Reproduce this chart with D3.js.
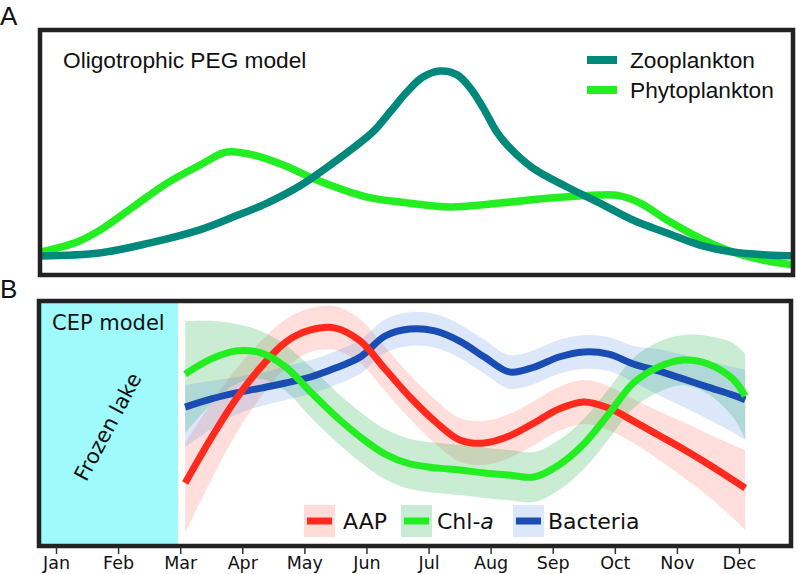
<!DOCTYPE html>
<html>
<head>
<meta charset="utf-8">
<script src="https://d3js.org/d3.v7.min.js"></script>
<style>
  html, body { margin: 0; padding: 0; background: #fff; }
  svg { display: block; }
</style>
</head>
<body>
<svg id="chart" width="797" height="574"></svg>
<script>
// ---------- DATA ----------
const monthLabels = ["Jan","Feb","Mar","Apr","May","Jun","Jul","Aug","Sep","Oct","Nov","Dec"];

// Panel A: Oligotrophic PEG model (arbitrary units, month index 0 = Jan)
const zooMonths = [-0.25, 0.7, 1.5, 2.3, 2.85, 3.4, 3.95, 4.57, 5.1, 5.38, 5.65, 5.91, 6.18, 6.46, 6.67, 6.88, 7.1, 7.31, 7.68, 8.23, 8.76, 9.29, 9.84, 10.37, 10.9, 11.45, 11.9];
const zooValues = [7.1, 8.3, 12.4, 17.8, 23.2, 29.0, 36.5, 47.7, 58.5, 66.8, 75.1, 81.3, 83.8, 82.2, 76.8, 68.5, 58.5, 51.9, 43.5, 35.7, 29.0, 22.0, 16.6, 11.6, 8.7, 7.5, 7.1];
const phytoMonths = [-0.25, 0.34, 0.71, 1.24, 1.79, 2.32, 2.75, 3.17, 3.66, 4.2, 5.01, 5.54, 6.35, 7.15, 7.96, 8.76, 9.08, 9.41, 9.84, 10.37, 10.9, 11.45, 11.9];
const phytoValues = [8.7, 12.9, 17.8, 27.4, 37.3, 44.8, 50.2, 49.0, 44.8, 38.6, 31.5, 29.5, 27.4, 29.0, 31.1, 32.4, 32.0, 29.0, 22.0, 14.5, 8.7, 5.0, 3.3];

// Panel B: CEP model
const frozenEnd = 1.965;
const cepMonths = [2.08, 2.5, 2.9, 3.3, 3.7, 4.1, 4.5, 4.9, 5.3, 5.7, 6.1, 6.5, 6.9, 7.3, 7.7, 8.1, 8.5, 8.9, 9.3, 9.7, 10.1, 10.5, 10.9, 11.1];
const aapMean = [25.3, 44.0, 60.2, 73.4, 83.8, 88.8, 89.6, 84.2, 72.6, 61.0, 51.0, 43.2, 41.9, 44.8, 50.2, 56.0, 58.9, 56.4, 51.0, 45.2, 39.4, 33.2, 26.6, 23.2];
const aapLow  = [4.6, 26.6, 45.7, 61.0, 73.0, 79.7, 80.5, 75.1, 63.5, 51.9, 41.9, 34.1, 32.8, 35.7, 41.1, 46.9, 49.8, 47.3, 41.9, 35.2, 27.8, 19.9, 10.8, 5.8];
const aapHigh = [41.9, 58.5, 72.6, 84.2, 93.3, 97.9, 98.7, 93.3, 81.7, 70.1, 60.1, 52.3, 51.0, 53.9, 59.3, 65.1, 68.0, 65.5, 60.1, 55.2, 50.6, 45.7, 41.1, 39.0];
const chlMean = [70.5, 76.8, 80.1, 79.3, 73.4, 63.1, 53.1, 44.4, 37.3, 33.2, 31.7, 30.7, 29.5, 28.6, 27.8, 32.8, 41.5, 53.9, 66.8, 73.4, 76.3, 74.7, 68.5, 61.4];
const chlLow  = [46.0, 58.1, 66.4, 68.5, 63.4, 52.7, 42.7, 34.0, 26.9, 22.8, 21.3, 20.3, 19.1, 18.2, 17.4, 22.4, 31.1, 43.5, 56.4, 63.0, 65.9, 62.2, 52.7, 43.6];
const chlHigh = [92.5, 92.6, 91.3, 88.4, 82.5, 73.5, 63.5, 54.8, 47.7, 43.6, 42.1, 41.1, 39.9, 39.0, 38.2, 43.2, 51.9, 64.3, 77.2, 83.8, 86.7, 86.3, 83.4, 78.8];
const bacMean = [56.8, 60.2, 62.7, 64.7, 66.8, 69.3, 73.0, 77.6, 86.3, 89.2, 88.4, 84.2, 77.6, 71.4, 73.4, 77.6, 79.7, 78.8, 74.7, 71.8, 68.5, 65.1, 61.8, 59.8];
const bacLow  = [40.2, 47.7, 53.6, 57.2, 59.8, 62.3, 66.0, 70.6, 79.3, 82.2, 81.4, 77.2, 70.6, 64.4, 66.4, 70.6, 72.7, 71.8, 67.2, 61.8, 56.9, 51.8, 46.4, 43.2];
const bacHigh = [65.9, 67.7, 69.3, 70.9, 73.8, 76.3, 80.0, 84.6, 93.3, 96.2, 95.4, 91.2, 84.6, 78.4, 80.4, 84.6, 86.7, 85.8, 82.2, 80.9, 78.5, 75.9, 73.4, 72.3];

// ---------- DRAWING ----------
const svg = d3.select("#chart");
const sansA = "'Liberation Sans', Arial, sans-serif";
const sansB = "'DejaVu Sans', sans-serif";
const curve = d3.curveCatmullRom.alpha(0.5);

const x = d3.scaleLinear().domain([0, 11]).range([56, 739]);

// frames
const frameA = {x0: 40, y0: 30, x1: 793, y1: 275};
const frameB = {x0: 39, y0: 301, x1: 791, y1: 546};

const yA = d3.scaleLinear().domain([0, 100]).range([273, 32]);
const yB = d3.scaleLinear().domain([0, 100]).range([544, 303]);

const defs = svg.append("defs");
defs.append("clipPath").attr("id", "clipA").append("rect")
  .attr("x", frameA.x0).attr("y", frameA.y0)
  .attr("width", frameA.x1 - frameA.x0).attr("height", frameA.y1 - frameA.y0);
defs.append("clipPath").attr("id", "clipB").append("rect")
  .attr("x", frameB.x0).attr("y", frameB.y0)
  .attr("width", frameB.x1 - frameB.x0).attr("height", frameB.y1 - frameB.y0);

// ----- Panel A -----
const gA = svg.append("g");
const lineA = d3.line().x(d => x(d[0])).y(d => yA(d[1])).curve(curve);
const phytoPts = phytoMonths.map((m, i) => [m, phytoValues[i]]);
const zooPts = zooMonths.map((m, i) => [m, zooValues[i]]);
const teal = "#00897b", lime = "#22ee22";

gA.append("path").attr("clip-path", "url(#clipA)")
  .attr("d", lineA(phytoPts)).attr("fill", "none").attr("stroke", lime).attr("stroke-width", 7.5);
gA.append("path").attr("clip-path", "url(#clipA)")
  .attr("d", lineA(zooPts)).attr("fill", "none").attr("stroke", teal).attr("stroke-width", 7.5);

gA.append("rect").attr("x", frameA.x0).attr("y", frameA.y0)
  .attr("width", frameA.x1 - frameA.x0).attr("height", frameA.y1 - frameA.y0)
  .attr("fill", "none").attr("stroke", "#222").attr("stroke-width", 4.5);

gA.append("text").attr("x", 63).attr("y", 68).text("Oligotrophic PEG model")
  .attr("font-family", sansA).attr("font-size", 22.7).attr("fill", "#111");

const legA = [["Zooplankton", teal, 60], ["Phytoplankton", lime, 90]];
legA.forEach(([name, col, yy]) => {
  gA.append("line").attr("x1", 587).attr("x2", 617).attr("y1", yy).attr("y2", yy)
    .attr("stroke", col).attr("stroke-width", 8);
  gA.append("text").attr("x", 630).attr("y", yy + 7.5).text(name)
    .attr("font-family", sansA).attr("font-size", 22.7).attr("fill", "#111");
});

svg.append("text").attr("x", 0).attr("y", 25).text("A")
  .attr("font-family", sansA).attr("font-size", 26).attr("fill", "#111");
svg.append("text").attr("x", 0).attr("y", 298).text("B")
  .attr("font-family", sansA).attr("font-size", 26).attr("fill", "#111");

// ----- Panel B -----
const gB = svg.append("g");
// frozen lake shading
gB.append("rect").attr("x", frameB.x0).attr("y", frameB.y0)
  .attr("width", x(frozenEnd) - frameB.x0).attr("height", frameB.y1 - frameB.y0)
  .attr("fill", "#9ffbfb");

const series = [
  {name: "AAP", mean: aapMean, lo: aapLow, hi: aapHigh, line: "#ff2a1d", band: "rgba(255,60,40,0.17)", patch: "#ffdcd8"},
  {name: "Chl-a", mean: chlMean, lo: chlLow, hi: chlHigh, line: "#22ee22", band: "rgba(40,180,80,0.25)", patch: "#c8ecd3"},
  {name: "Bacteria", mean: bacMean, lo: bacLow, hi: bacHigh, line: "#1a4db3", band: "rgba(80,140,230,0.2)", patch: "#dce7fa"}
];

const areaB = d3.area().x((d, i) => x(cepMonths[i])).y0(d => yB(d[0])).y1(d => yB(d[1])).curve(curve);
const lineB = d3.line().x((d, i) => x(cepMonths[i])).y(d => yB(d)).curve(curve);

series.forEach(s => {
  gB.append("path").attr("clip-path", "url(#clipB)")
    .attr("d", areaB(s.lo.map((v, i) => [v, s.hi[i]])))
    .attr("fill", s.band);
});
// draw order: bacteria, AAP, Chl-a
[series[2], series[0], series[1]].forEach(s => {
  gB.append("path").attr("clip-path", "url(#clipB)")
    .attr("d", lineB(s.mean)).attr("fill", "none")
    .attr("stroke", s.line).attr("stroke-width", 7);
});

// legend
const legB = [
  {s: series[0], px: 304, tx: 343},
  {s: series[1], px: 401, tx: 437},
  {s: series[2], px: 513, tx: 548}
];
legB.forEach(l => {
  gB.append("rect").attr("x", l.px).attr("y", 505).attr("width", 31).attr("height", 32).attr("fill", l.s.patch);
  gB.append("line").attr("x1", l.px + 3).attr("x2", l.px + 28).attr("y1", 521).attr("y2", 521)
    .attr("stroke", l.s.line).attr("stroke-width", 7);
  const t = gB.append("text").attr("x", l.tx).attr("y", 529)
    .attr("font-family", sansB).attr("font-size", 22).attr("fill", "#111");
  if (l.s.name === "Chl-a") {
    t.append("tspan").text("Chl-");
    t.append("tspan").attr("font-style", "italic").text("a");
  } else {
    t.text(l.s.name);
  }
});

gB.append("text").attr("x", 52).attr("y", 330).text("CEP model")
  .attr("font-family", sansB).attr("font-size", 21).attr("fill", "#111");
gB.append("text").attr("transform", "translate(108,427) rotate(-62)")
  .attr("text-anchor", "middle").attr("dominant-baseline", "central")
  .text("Frozen lake").attr("font-family", sansB).attr("font-size", 21).attr("fill", "#111");

gB.append("rect").attr("x", frameB.x0).attr("y", frameB.y0)
  .attr("width", frameB.x1 - frameB.x0).attr("height", frameB.y1 - frameB.y0)
  .attr("fill", "none").attr("stroke", "#222").attr("stroke-width", 4.5);

// x axis
const axis = d3.axisBottom(x).tickValues(d3.range(12)).tickFormat(i => monthLabels[i])
  .tickSize(6).tickPadding(3);
const gAx = svg.append("g").attr("transform", "translate(0,548)").call(axis);
gAx.select(".domain").remove();
gAx.selectAll(".tick line").attr("stroke", "#333").attr("stroke-width", 1.5);
gAx.selectAll(".tick text").attr("font-family", sansB).attr("font-size", 17.5).attr("fill", "#111");
</script>
</body>
</html>
